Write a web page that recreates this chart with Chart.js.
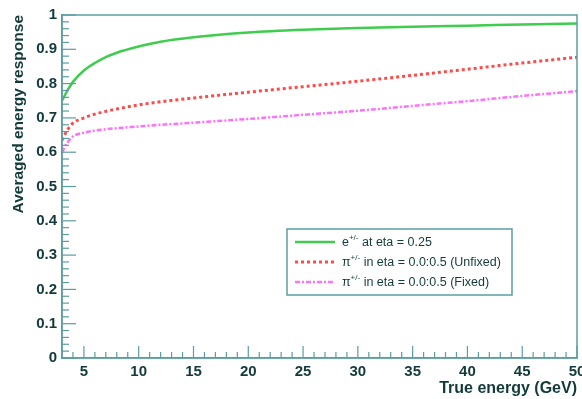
<!DOCTYPE html>
<html><head><meta charset="utf-8">
<script src="https://cdn.jsdelivr.net/npm/chart.js@4.4.1/dist/chart.umd.min.js"></script>
<style>html,body{margin:0;padding:0;background:#fff}#wrap{width:582px;height:399px}</style>
</head><body><div id="wrap"><canvas id="c" width="582" height="399"></canvas></div>
<script>
const energies = [3,3.5,4,5,6,7,8,10,12,15,20,25,30,35,40,45,50];
const electronResp = [0.75,0.78,0.805,0.838,0.86,0.877,0.89,0.908,0.922,0.935,0.949,0.957,0.962,0.966,0.969,0.972,0.975];
const pionUnfixed = [0.635,0.665,0.685,0.70,0.711,0.719,0.726,0.738,0.747,0.758,0.775,0.791,0.807,0.824,0.842,0.86,0.877];
const pionFixed = [0.6,0.628,0.646,0.657,0.663,0.667,0.67,0.675,0.68,0.686,0.697,0.709,0.721,0.735,0.749,0.764,0.778];
const xTicks = [5,10,15,20,25,30,35,40,45,50];
const yTicks = [0,0.1,0.2,0.3,0.4,0.5,0.6,0.7,0.8,0.9,1];
const legendItems = [
  {base:'e', sup:'+/-', rest:' at eta = 0.25'},
  {base:'\u03c0', sup:'+/-', rest:' in eta = 0.0:0.5 (Unfixed)'},
  {base:'\u03c0', sup:'+/-', rest:' in eta = 0.0:0.5 (Fixed)'}
];
const AXIS = '#5a9ea0';
const TXT = '#123a3a';
const FONT = '"Liberation Sans", Arial, sans-serif';
const colors = ['#3fcc4f','#ff4a4a','#ff70ff'];
const dashes = [[],[3,3],[5,2,2,2]];
const widths = [2.5,3,2.5];

const toXY = arr => arr.map((v,i)=>({x:energies[i],y:v}));

const framePlugin = {
  id:'frame',
  afterDraw(chart){
    const {ctx, chartArea:a, scales:{x,y}} = chart;
    ctx.save();
    ctx.strokeStyle = AXIS; ctx.lineWidth = 1.5;
    ctx.strokeRect(a.left, a.top, a.right-a.left, a.bottom-a.top);
    ctx.lineWidth = 1.2;
    for (let i=0;i<=50;i++){
      const v = i*0.02; const p = y.getPixelForValue(v);
      const major = i%5===0; const L = major?14:7;
      ctx.beginPath(); ctx.moveTo(a.left,p); ctx.lineTo(a.left+L,p); ctx.stroke();
    }
    for (let v=4; v<=50; v++){
      const p = x.getPixelForValue(v);
      const major = v%5===0; const L = major?12:6;
      ctx.beginPath(); ctx.moveTo(p,a.bottom); ctx.lineTo(p,a.bottom-L); ctx.stroke();
    }
    const lx=287, ly=229, lw=225, lh=66;
    ctx.fillStyle='#fff'; ctx.fillRect(lx,ly,lw,lh);
    ctx.strokeStyle=AXIS; ctx.lineWidth=1.5; ctx.strokeRect(lx,ly,lw,lh);
    legendItems.forEach((it,i)=>{
      const yy = ly+13+i*20;
      ctx.strokeStyle=colors[i]; ctx.lineWidth=widths[i]; ctx.setLineDash(dashes[i]);
      ctx.beginPath(); ctx.moveTo(295,yy); ctx.lineTo(335,yy); ctx.stroke();
      ctx.setLineDash([]);
      ctx.fillStyle=TXT; ctx.textBaseline='middle'; ctx.textAlign='left';
      ctx.font='12.5px '+FONT;
      let tx=342; ctx.fillText(it.base,tx,yy+1); tx+=ctx.measureText(it.base).width;
      ctx.font='8px '+FONT;
      ctx.fillText(it.sup,tx,yy-4); tx+=ctx.measureText(it.sup).width;
      ctx.font='12.5px '+FONT;
      ctx.fillText(it.rest,tx,yy+1);
    });
    ctx.restore();
  }
};

new Chart(document.getElementById('c'), {
  type:'line',
  data:{datasets:[
    {label:'e+/- at eta = 0.25', data:toXY(electronResp), borderColor:colors[0], borderWidth:widths[0], borderDash:dashes[0], pointRadius:0, cubicInterpolationMode:'monotone', fill:false},
    {label:'pi+/- in eta = 0.0:0.5 (Unfixed)', data:toXY(pionUnfixed), borderColor:colors[1], borderWidth:widths[1], borderDash:dashes[1], pointRadius:0, cubicInterpolationMode:'monotone', fill:false},
    {label:'pi+/- in eta = 0.0:0.5 (Fixed)', data:toXY(pionFixed), borderColor:colors[2], borderWidth:widths[2], borderDash:dashes[2], pointRadius:0, cubicInterpolationMode:'monotone', fill:false}
  ]},
  options:{
    responsive:false, animation:false, devicePixelRatio:1,
    layout:{padding:{top:15,right:5,left:0,bottom:0}},
    plugins:{legend:{display:false}, tooltip:{enabled:false}},
    scales:{
      x:{type:'linear', min:3, max:50,
        afterBuildTicks(s){ s.ticks = xTicks.map(v=>({value:v})); },
        afterFit(s){ s.height = 41; s.paddingRight = 0; s.paddingLeft = 0; },
        grid:{display:false, drawTicks:false}, border:{display:true,color:AXIS,width:1.5},
        ticks:{color:TXT, padding:5, maxRotation:0, font:{family:FONT, size:15, weight:'bold'}},
        title:{display:true, text:'True energy (GeV)', align:'end', color:TXT, padding:{top:0,bottom:1}, font:{family:FONT, size:16, weight:'bold'}}
      },
      y:{type:'linear', min:0, max:1,
        afterBuildTicks(s){ s.ticks = yTicks.map(v=>({value:v})); },
        afterFit(s){ s.width = 62; s.paddingTop = 0; s.paddingBottom = 0; },
        grid:{display:false, drawTicks:false}, border:{display:true,color:AXIS,width:1.5},
        ticks:{color:TXT, padding:5, callback:v=>String(Math.round(v*10)/10), font:{family:FONT, size:15, weight:'bold'}},
        title:{display:true, text:'Averaged energy response', align:'end', color:TXT, padding:{top:9,bottom:0}, font:{family:FONT, size:15.5, weight:'bold'}}
      }
    }
  },
  plugins:[framePlugin]
});
</script></body></html>
